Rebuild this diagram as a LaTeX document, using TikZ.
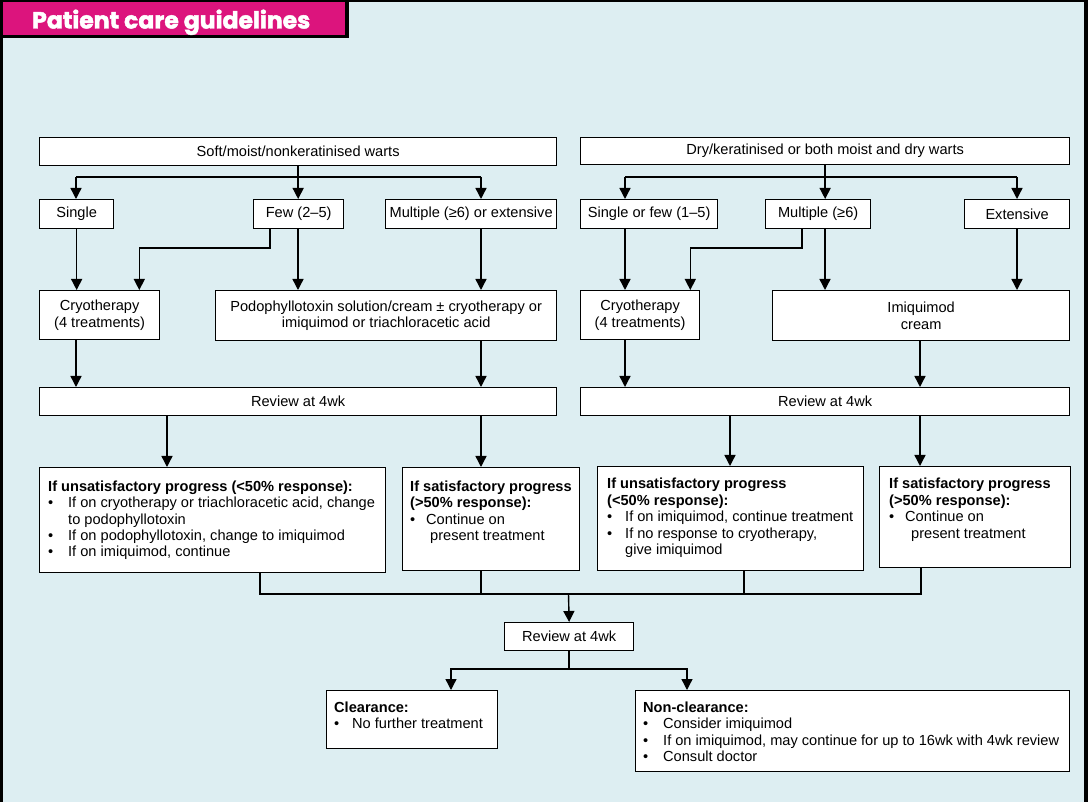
\documentclass[tikz,border=0pt]{standalone}
\usepackage{fontspec}
\setmainfont{Liberation Sans}
\newfontfamily\titlefont{Poppins}[BoldFeatures={FakeBold=2}]
\usetikzlibrary{arrows.meta,calc}
\definecolor{bgblue}{RGB}{221,238,242}
\definecolor{bannermag}{RGB}{220,20,125}
\newcommand{\blt}[1][20pt]{\makebox[#1][l]{•}}
\newcommand{\hng}[1][20pt]{\hspace*{#1}}
\tikzset{
  box/.style={draw=black, line width=1.3pt, fill=white, inner sep=0pt, anchor=north west, align=center},
  arr/.style={line width=1.4pt, -{Triangle[length=11pt,width=11pt]}},
  ln/.style={line width=1.4pt},
  lst/.style={inner sep=0pt, anchor=base west},
}
\begin{document}
\begin{tikzpicture}[x=1pt,y=-1pt,font=\fontsize{14.6}{16.5}\selectfont]
\useasboundingbox (0,0) rectangle (1088,802);
% background and frame
\fill[bgblue] (0,0) rectangle (1088,802);
\fill[black] (0,0) rectangle (2.5,802);
\fill[black] (1084,0) rectangle (1088,802);
\fill[black] (0,0) rectangle (1088,2.5);
% banner
\fill[bannermag] (2.5,2.5) rectangle (345,35);
\fill[black] (345,2.5) rectangle (348.5,38);
\fill[black] (2.5,35) rectangle (348.5,38);
\node[inner sep=0pt, anchor=base west, text=white, font=\titlefont\bfseries\fontsize{23.5}{26}\selectfont] (title) at (32,28.5) {Patient care guidelines};

% ---------------- left column ----------------
\node[box, minimum width=517pt, minimum height=28pt] (soft) at (39,137) {Soft/moist/nonkeratinised warts};
\node[box, minimum width=74pt, minimum height=29pt] (single) at (39,199) {Single};
\node[box, minimum width=90pt, minimum height=29pt] (few) at (253,199) {Few (2–5)};
\node[box, minimum width=171pt, minimum height=29pt] (multi) at (385,199) {Multiple (≥6) or extensive};
\node[box, minimum width=120pt, minimum height=49pt] (cryoL) at (39,290) {Cryotherapy\\(4 treatments)};
\node[box, minimum width=341pt, minimum height=50pt] (podo) at (215,290) {Podophyllotoxin solution/cream ± cryotherapy or\\imiquimod or triachloracetic acid};
\node[box, minimum width=517pt, minimum height=28pt] (reviewL) at (39,387) {Review at 4wk};
\node[box, minimum width=346pt, minimum height=105pt] (unsatL) at (39,467) {};
\node[box, minimum width=177pt, minimum height=103pt] (satL) at (402,467) {};

% ---------------- right column ----------------
\node[box, minimum width=489pt, minimum height=27pt] (dry) at (580,137) {Dry/keratinised or both moist and dry warts};
\node[box, minimum width=137pt, minimum height=29pt] (sof) at (580,199) {Single or few (1–5)};
\node[box, minimum width=105pt, minimum height=29pt] (mult) at (765,199) {Multiple (≥6)};
\node[box, minimum width=105pt, minimum height=29pt] (ext) at (964,199) {Extensive};
\node[box, minimum width=119pt, minimum height=49pt] (cryoR) at (580,290) {Cryotherapy\\(4 treatments)};
\node[box, minimum width=297pt, minimum height=50pt] (imiq) at (772,290) {Imiquimod\\cream};
\node[box, minimum width=489pt, minimum height=28pt] (reviewR) at (580,387) {Review at 4wk};
\node[box, minimum width=266pt, minimum height=104pt] (unsatR) at (597,466) {};
\node[box, minimum width=191pt, minimum height=101pt] (satR) at (879,466) {};

% ---------------- bottom ----------------
\node[box, minimum width=129pt, minimum height=28pt] (review3) at (504,622) {Review at 4wk};
\node[box, minimum width=171pt, minimum height=58pt] (clear) at (326,690) {};
\node[box, minimum width=434pt, minimum height=81pt] (nonclear) at (635,690) {};

% list texts
\node[lst] (unsatLt) at (48,491) {\begin{tabular}[t]{@{}l@{}}
\textbf{If unsatisfactory progress (<50\% response):}\\
\blt If on cryotherapy or triachloracetic acid, change\\
\hng to podophyllotoxin\\
\blt If on podophyllotoxin, change to imiquimod\\
\blt If on imiquimod, continue
\end{tabular}};
\node[lst] (satLt) at (410,491) {\begin{tabular}[t]{@{}l@{}}
\textbf{If satisfactory progress}\\
\textbf{(>50\% response):}\\
\blt[16pt]Continue on\\
\hng[20pt]present treatment
\end{tabular}};
\node[lst] (unsatRt) at (607,489) {\begin{tabular}[t]{@{}l@{}}
\textbf{If unsatisfactory progress}\\
\textbf{(<50\% response):}\\
\blt[18pt]If on imiquimod, continue treatment\\
\blt[18pt]If no response to cryotherapy,\\
\hng[18pt]give imiquimod
\end{tabular}};
\node[lst] (satRt) at (889,489) {\begin{tabular}[t]{@{}l@{}}
\textbf{If satisfactory progress}\\
\textbf{(>50\% response):}\\
\blt[16pt]Continue on\\
\hng[22pt]present treatment
\end{tabular}};
\node[lst] (cleart) at (334,712) {\begin{tabular}[t]{@{}l@{}}
\textbf{Clearance:}\\
\blt[18pt]No further treatment
\end{tabular}};
\node[lst] (noncleart) at (643,712) {\begin{tabular}[t]{@{}l@{}}
\textbf{Non-clearance:}\\
\blt Consider imiquimod\\
\blt If on imiquimod, may continue for up to 16wk with 4wk review\\
\blt Consult doctor
\end{tabular}};

% ---------------- connectors left ----------------
\coordinate (jL) at (76,177);
\coordinate (jR) at (481,177);
\draw[arr] (soft.south) -- (soft.south |- few.north);
\draw[ln] (jL) -- (jR);
\draw[arr] (jL) -- (jL |- single.north);
\draw[arr] (jR) -- (jR |- multi.north);
\draw[arr] (single.south) -- (single.south |- cryoL.north);
\draw[arr] ([xshift=17pt]few.south west) |- ([xshift=-21pt,yshift=42pt]cryoL.north east) -- ([xshift=-21pt]cryoL.north east);
\draw[arr] ([xshift=45pt]few.south west) -- ([xshift=45pt]few.south west |- podo.north);
\draw[arr] ([xshift=96pt]multi.south west) -- ([xshift=96pt]multi.south west |- podo.north);
\draw[arr] ([xshift=37pt]cryoL.south west) -- ([xshift=37pt]cryoL.south west |- reviewL.north);
\draw[arr] ([xshift=266pt]podo.south west) -- ([xshift=266pt]podo.south west |- reviewL.north);
\draw[arr] ([xshift=128pt]reviewL.south west) -- ([xshift=128pt]reviewL.south west |- unsatL.north);
\draw[arr] ([xshift=442pt]reviewL.south west) -- ([xshift=442pt]reviewL.south west |- satL.north);

% ---------------- connectors right ----------------
\coordinate (kL) at (625,177);
\coordinate (kR) at (1017,177);
\draw[arr] (dry.south) -- (dry.south |- mult.north);
\draw[ln] (kL) -- (kR);
\draw[arr] (kL) -- (kL |- sof.north);
\draw[arr] (kR) -- (kR |- ext.north);
\draw[arr] ([xshift=45pt]sof.south west) -- ([xshift=45pt]sof.south west |- cryoR.north);
\draw[arr] ([xshift=37pt]mult.south west) |- ([xshift=-10pt,yshift=42pt]cryoR.north east) -- ([xshift=-10pt]cryoR.north east);
\draw[arr] ([xshift=60pt]mult.south west) -- ([xshift=60pt]mult.south west |- imiq.north);
\draw[arr] ([xshift=53pt]ext.south west) -- ([xshift=53pt]ext.south west |- imiq.north);
\draw[arr] ([xshift=45pt]cryoR.south west) -- ([xshift=45pt]cryoR.south west |- reviewR.north);
\draw[arr] ([xshift=148pt]imiq.south west) -- ([xshift=148pt]imiq.south west |- reviewR.north);
\draw[arr] ([xshift=150pt]reviewR.south west) -- ([xshift=150pt]reviewR.south west |- unsatR.north);
\draw[arr] ([xshift=340pt]reviewR.south west) -- ([xshift=340pt]reviewR.south west |- satR.north);

% ---------------- merge ----------------
\coordinate (mrg) at (568.5,594);
\draw[ln] ([xshift=221pt]unsatL.south west) |- (mrg);
\draw[ln] ([xshift=79pt]satL.south west) |- (mrg);
\draw[ln] ([xshift=147pt]unsatR.south west) |- (mrg);
\draw[ln] ([xshift=42pt]satR.south west) |- (mrg);
\draw[arr] (mrg) -- (review3.north);
\draw[arr] (review3.south) |- ([xshift=125pt,yshift=21pt]clear.north west) -- ([xshift=125pt]clear.north west);
\draw[arr] (review3.south) |- ([xshift=52pt,yshift=21pt]nonclear.north west) -- ([xshift=52pt]nonclear.north west);
\end{tikzpicture}
\end{document}
